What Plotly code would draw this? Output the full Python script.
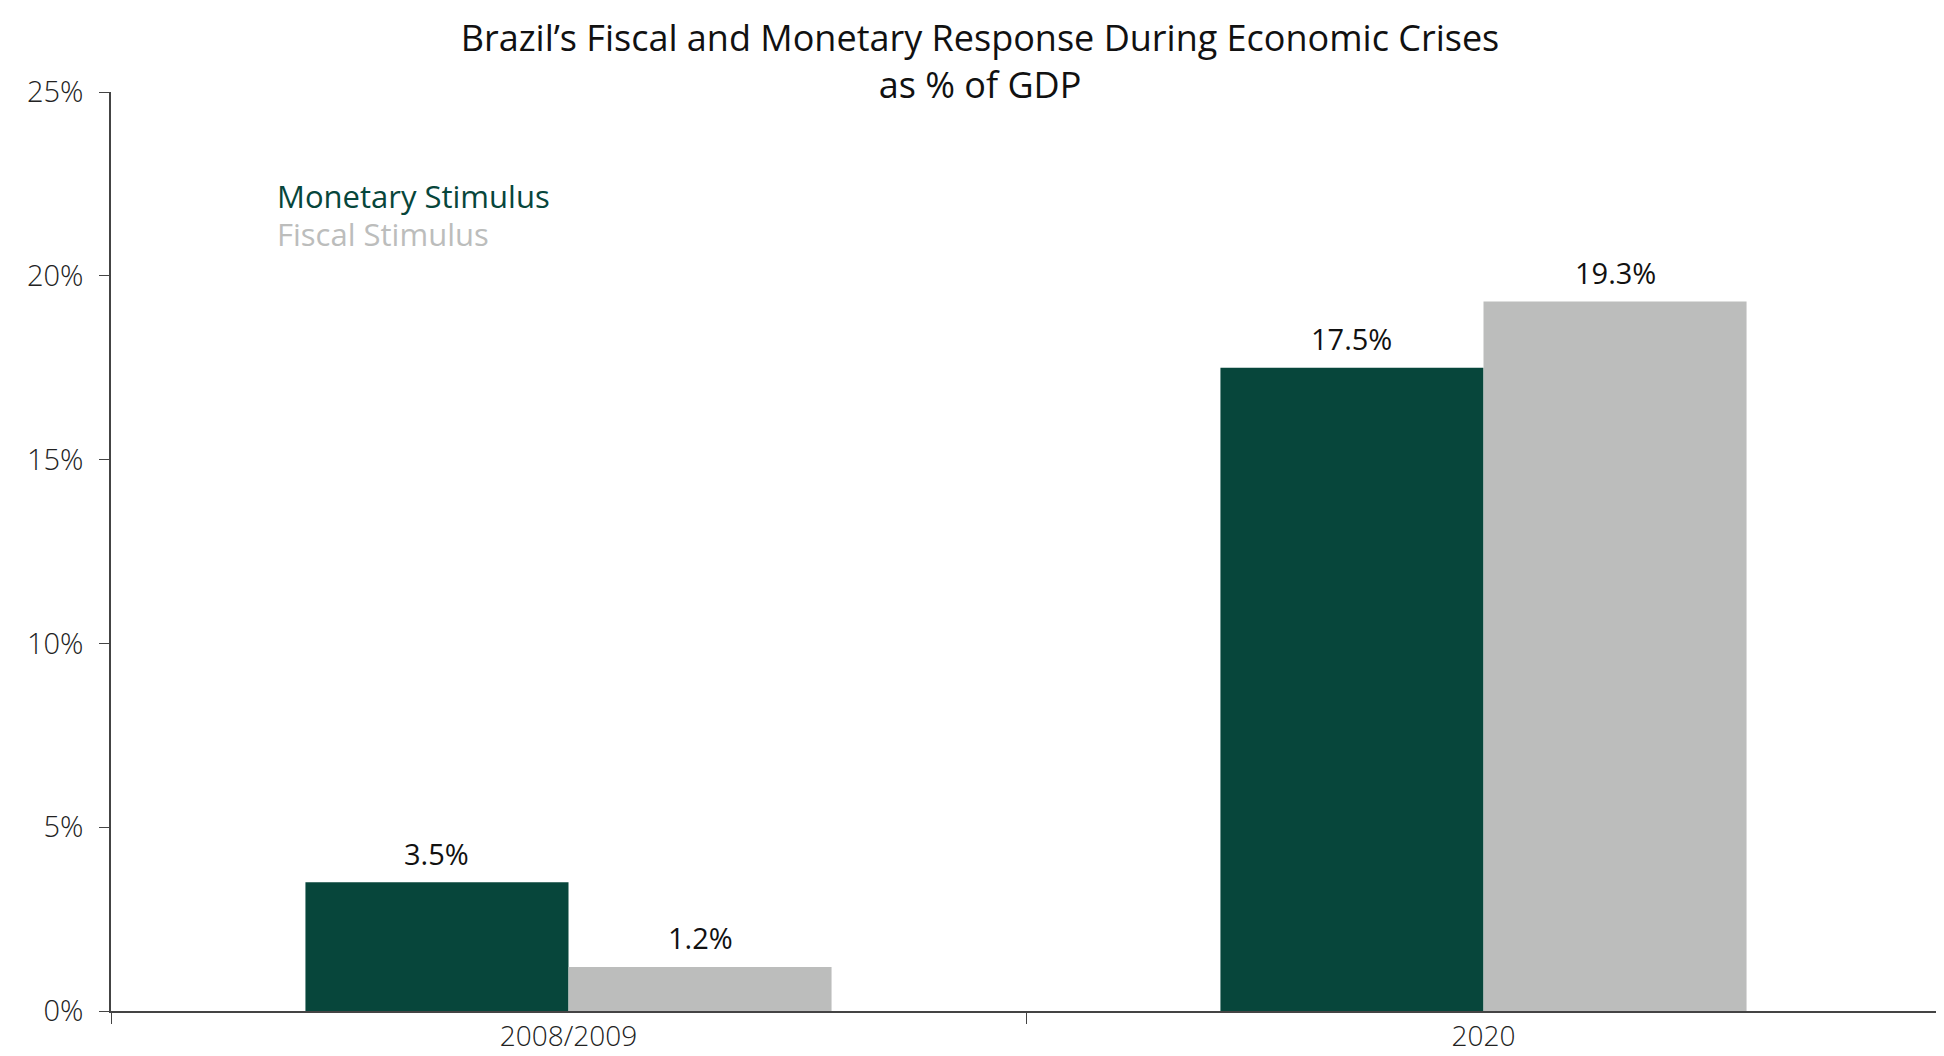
import plotly.graph_objects as go

categories = ["2008/2009", "2020"]
monetary = [3.5, 17.5]
fiscal = [1.2, 19.3]
series_names = ["Monetary Stimulus", "Fiscal Stimulus"]
y_ticks = [0, 5, 10, 15, 20, 25]
y_tick_labels = ["0%", "5%", "10%", "15%", "20%", "25%"]

GREEN = "#07463B"
GRAY = "#BCBDBC"
FONT = "Open Sans"

W, H = 1944, 1056
ML, MR, MT, MB = 103, 11, 84, 53
BARGAP = 0.425

fig = go.Figure()
series = [(series_names[0], monetary, GREEN), (series_names[1], fiscal, GRAY)]
for name, vals, col in series:
    fig.add_trace(go.Bar(
        x=categories, y=vals, name=name,
        marker=dict(color=col, line=dict(width=0)),
    ))

# value labels above bars (category axis: annotations use category index)
plot_w = W - ML - MR
bar_w = plot_w / len(categories) * (1 - BARGAP) / len(series)
for si, (name, vals, col) in enumerate(series):
    shift = (si - (len(series) - 1) / 2) * bar_w
    for ci, v in enumerate(vals):
        fig.add_annotation(
            x=ci, y=v, xref="x", yref="y", text=f"{v:.1f}%",
            showarrow=False, xshift=shift, yshift=29,
            xanchor="center", yanchor="middle",
            font=dict(family=FONT, size=29, color="#111111"),
        )

fig.update_layout(
    width=W, height=H,
    barmode="group", bargap=BARGAP, bargroupgap=0,
    plot_bgcolor="white", paper_bgcolor="white",
    showlegend=False,
    margin=dict(l=ML, r=MR, t=MT, b=MB, autoexpand=False),
    title=dict(
        text="Brazil’s Fiscal and Monetary Response During Economic Crises<br>as % of GDP",
        x=0.5, xanchor="center", xref="container",
        y=1 - 43 / H, yref="container", yanchor="middle",
        font=dict(family=FONT, size=36, color="#111111"),
    ),
    font=dict(family=FONT),
)

fig.update_xaxes(
    type="category", range=[-0.5, len(categories) - 0.5], autorange=False,
    showline=True, linecolor="#444444", linewidth=1.5,
    ticks="outside", tickson="boundaries", ticklen=11, tickcolor="#444444", tickwidth=1.2,
    tickfont=dict(family=FONT, size=28, color="#222222", weight=300),
    ticklabelstandoff=0,
    showgrid=False,
)
fig.update_yaxes(
    range=[0, 25], autorange=False,
    tickvals=y_ticks, ticktext=y_tick_labels,
    showline=True, linecolor="#444444", linewidth=1.5,
    ticks="outside", ticklen=10, tickcolor="#444444", tickwidth=1.2,
    tickfont=dict(family=FONT, size=29, color="#222222", weight=300),
    ticklabelstandoff=10,
    showgrid=False, zeroline=False,
)

legend_y = [0.887, 0.846]
for name, col, yy in zip(series_names, [GREEN, GRAY], legend_y):
    fig.add_annotation(
        text=name, xref="paper", yref="paper", x=0.0896, y=yy,
        xanchor="left", yanchor="middle", showarrow=False,
        font=dict(family=FONT, size=31, color=col),
    )

fig.write_html("out.html")
